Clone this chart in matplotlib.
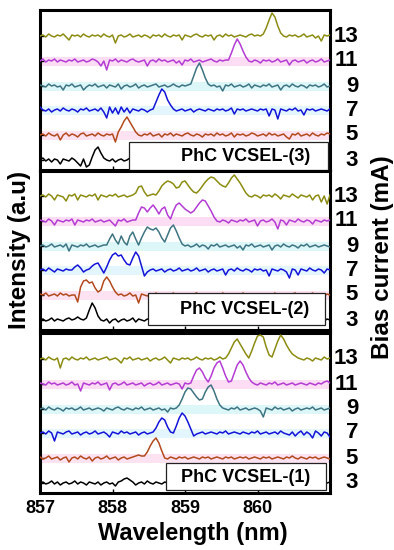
import numpy as np
import matplotlib
matplotlib.use('Agg')
import matplotlib.pyplot as plt
from matplotlib.patches import Rectangle
import matplotlib.transforms as mtransforms

plt.rcParams['font.family'] = ['Liberation Sans', 'DejaVu Sans']
plt.rcParams['font.weight'] = 'bold'

# ---------------- data ----------------
WL_START = 857.0      # nm, first sample
WL_STEP = 0.04        # nm between samples
currents = [3, 5, 7, 9, 11, 13]          # bias current (mA)
offsets = [10, 35, 60, 84, 109, 134]     # vertical stacking offsets (a.u.)
xticks = [857, 858, 859, 860]
panel_names = ['PhC VCSEL-(3)', 'PhC VCSEL-(2)', 'PhC VCSEL-(1)']

# PhC VCSEL-(3)  (top panel)
d3_3mA = [0, 2, -1, 1, -2, 1, 0, -4, 1, 0,
          -1, 2, 0, -3, -6, 1, -7, -5, 3, 10,
          13, 7, 2, 0, -1, 1, -2, 0, 1, -1,
          0, 2, -1, 0, 1, -2, 0, 1, -1, 0,
          1, 0, -2, 1, 0, -1, 2, 0, -1, 1,
          0, -1, 1, 0, 2, -1, 0, 1, -2, 0,
          1, 0, -1, 2, 0, -1, 1, 0, -2, 1,
          0, 1, -1, 0, 2, -1, 0, 1, 0, -1,
          1, 0, -2, 1, 0, -1, 1, 0, 2, -1,
          0, 1, -1, 0, 1, -2, 0, 1, 0, -1, 0]
d3_5mA = [0, 1, -1, 2, 0, -1, 1, -5, 0, 2,
          -1, 1, 0, -2, 1, 2, -1, 0, 1, -1,
          2, 0, -1, 1, 0, 1, -7, 3, 8, 14,
          18, 13, 8, 3, 0, -1, 1, 0, 2, -1,
          0, 1, -2, 1, 0, 2, -1, 1, 0, -1,
          1, 2, 0, -1, 1, 0, -2, 1, 0, 1,
          -1, 2, 0, 1, -1, 0, 2, -2, 1, 0,
          1, -1, 0, 2, 1, -1, 0, 1, -1, 2,
          0, 1, -1, 0, 1, -2, -4, 1, 0, 2,
          -1, 0, 1, -1, 2, 0, -1, 1, 0, 2, 1]
d3_7mA = [3, 0, -1, 1, -2, 0, 1, -1, 2, 0,
          -1, 1, 0, -2, 1, 0, 2, -1, 0, 1,
          -1, 2, -2, -8, 3, -3, 2, -4, 3, -2,
          2, -3, 1, 0, -1, 1, 0, -2, 0, 1,
          8, 15, 21, 18, 10, 5, 1, -1, 0, 1,
          -1, 0, 1, -2, 0, 1, 0, -1, 1, 0,
          -1, 1, 0, 1, -1, 0, 2, -4, 1, 0,
          1, -1, 0, 1, 0, -1, 1, 0, 1, -6,
          1, 0, -9, 1, 0, -1, 1, 0, 2, -1,
          0, -5, 1, 0, 1, -1, 0, 1, 0, -1, 1]
d3_9mA = [1, 0, -1, 2, 0, 1, -1, 0, -4, 1,
          0, 2, -1, 0, 1, -4, -1, 1, 0, 2,
          -1, 0, 1, -2, 1, 0, -1, 2, -3, 0,
          1, -1, 0, 2, -2, 0, 1, -1, 0, 1,
          2, -1, 0, 1, -1, 0, 2, 0, -1, 1,
          0, 1, 2, 10, 18, 23, 16, 8, 2, 0,
          1, -1, 0, -5, 1, 0, 2, -1, 0, 1,
          -1, 0, 2, -2, 1, 0, -1, 1, 0, 2,
          -1, 0, 1, -4, 0, 1, -1, 2, 0, -1,
          1, 0, -2, 1, 0, 1, -1, 0, 2, -1, 0]
d3_11mA = [0, 2, -1, 1, 0, 2, -1, 1, 0, -1,
           1, 0, 2, -1, 0, 1, -1, 0, 2, 1,
           -1, -5, 0, -9, 1, 0, 2, -1, 1, 0,
           -1, 1, 2, 0, -1, 0, 1, -5, 0, 1,
           -1, 2, 0, 1, -1, 0, 1, -2, 0, -4,
           1, 0, 2, -1, 0, 1, -1, 0, 1, 2,
           0, -1, 1, 0, 1, 1, 8, 16, 22, 17,
           10, 4, 0, -1, 1, 0, -2, 1, 0, 1,
           -1, 0, 2, -1, 0, 1, -4, 0, 1, -1,
           0, 1, -2, 0, 1, -1, 0, 2, -1, 0, 1]
d3_13mA = [0, 1, -1, 2, 0, -1, 1, 0, 2, -1,
           -4, 1, 0, 1, -1, 2, 0, -1, 1, 0,
           1, -1, 2, 0, -1, 1, -7, 0, 1, -1,
           0, 2, -1, 0, 1, -1, 1, 0, -2, 1,
           0, 1, -1, 2, 0, -1, 1, 0, 1, -4,
           1, 0, -1, 1, 2, 0, -1, 1, 0, 1,
           -4, 0, 1, -1, 2, 0, 1, -1, 0, 1,
           0, -1, 1, 2, 0, 1, 0, 2, 8, 16,
           23, 19, 10, 3, 0, -1, 1, 0, 1, -1,
           0, 2, -1, 0, 1, -2, 0, -5, 1, 0, 1]

# PhC VCSEL-(2)  (middle panel)
d2_3mA = [0, 1, -1, 0, 2, -1, 1, 0, -1, 1,
          2, 0, 1, 3, 1, 0, 2, 10, 17, 12,
          4, 0, -1, 1, -3, 0, 1, -2, 0, 1,
          -1, 0, 2, -2, 1, 0, -1, 1, 0, -1,
          1, 0, -1, 2, 0, -1, 1, 0, -2, 1,
          0, 1, -1, 0, 1, -2, 0, 1, 0, -1,
          1, 0, 2, -1, 0, 1, -1, 0, 1, -2,
          0, 1, -1, 2, 0, -1, 1, 0, -1, 1,
          0, -2, 1, 0, 1, -1, 0, 2, -1, 0,
          1, -1, 0, 1, 0, -2, 1, 0, -1, 1, 0]
d2_5mA = [1, 0, 2, -1, 0, 1, -1, 2, 0, 1,
          -1, 0, 0, -7, 8, 14, 15, 12, 13, 7,
          3, 5, 14, 18, 14, 8, 3, 0, 1, -1,
          0, 2, -1, 0, -8, 1, 0, -1, 1, 0,
          2, -1, 0, 1, -1, 0, 2, -2, 1, 0,
          1, -1, 0, 1, 2, 0, -1, 1, 0, -2,
          1, 0, -1, 2, 0, 1, -1, 0, 1, -1,
          2, 0, -1, 1, 0, -2, 1, 0, 1, -1,
          0, 2, -1, 0, 1, -1, 0, 1, 2, -1,
          0, 1, -1, 0, 2, -1, 1, 0, -1, 1, 0]
d2_7mA = [0, 1, -1, 2, 0, -2, 1, 0, -1, 1,
          0, 0, 3, 5, 2, -2, 0, 1, 4, 6,
          7, 2, -3, 3, 10, 15, 17, 14, 15, 10,
          6, 5, 12, 18, 14, 4, -6, -2, 0, 1,
          -1, 0, 1, -2, 0, 1, -1, 0, 2, -1,
          0, 1, -1, 0, 2, -1, 0, 1, -2, 0,
          1, -1, 0, 1, -5, 0, 1, -1, 2, 0,
          -1, 1, 0, -2, 1, 0, 1, -1, 0, -6,
          1, 0, -1, 1, 0, -2, -8, 1, 0, -5,
          1, 0, -1, 2, 0, -1, 1, 0, -3, 1, 0]
d2_9mA = [0, 1, -1, 0, 2, -1, 0, 1, -1, 2,
          -5, 1, 0, -1, 1, 0, 2, -1, 0, 1,
          -1, 0, 1, 1, 7, 12, 6, 2, 10, 4,
          1, 10, 14, 7, 1, 8, 14, 19, 17, 16,
          18, 14, 8, 4, 11, 18, 21, 15, 8, 2,
          0, 1, -1, 0, 2, -1, 1, 0, -3, 1,
          0, 2, -1, 0, 1, -1, 0, 1, -2, 0,
          -4, 1, 0, 2, -1, 0, 1, -1, 0, 1,
          -4, 0, 1, -1, 2, 0, -1, 1, 0, -2,
          1, 0, 2, -1, 0, 1, -1, 0, 1, 0, -1]
d2_11mA = [1, 0, -1, 2, 0, -4, 1, 0, -1, 1,
           0, 2, -4, 1, 0, -1, 1, 0, 2, -1,
           0, 1, -1, 0, 1, -2, -5, 1, 0, 2,
           -1, 0, 1, 1, 8, 14, 13, 9, 13, 16,
           12, 7, 12, 14, 6, 2, 10, 16, 18, 15,
           12, 10, 8, 10, 14, 18, 21, 20, 15, 10,
           4, 0, -1, 1, 0, -2, 1, 0, -1, 1,
           0, 2, -1, 0, 1, -5, 0, 1, -1, 0,
           2, -1, -8, 1, 0, -4, 1, 0, -1, 2,
           0, -1, 1, 0, -3, 1, 0, -1, 1, 0, 1]
d2_13mA = [0, 1, -1, 2, 0, -4, 1, 0, -1, -5,
           1, 0, 2, -4, 1, 0, -1, 1, 0, 2,
           -4, 1, 0, -1, 1, 0, 2, -1, 0, 1,
           -1, 0, 1, 3, 9, 10, 4, 0, 1, 2,
           1, 5, 10, 13, 15, 14, 12, 8, 9, 14,
           15, 11, 7, 4, 3, 6, 10, 14, 17, 19,
           18, 15, 12, 10, 9, 13, 18, 21, 17, 13,
           8, 3, 0, -1, 1, 0, -2, 1, 0, 1,
           -1, 2, 0, -3, 1, 0, -1, 2, 0, -2,
           1, 0, -1, 1, -4, 0, 1, -6, 0, -8, 1]

# PhC VCSEL-(1)  (bottom panel)
d1_3mA = [0, 1, -1, 0, 2, -1, 1, -2, 0, 1,
          -1, 0, 2, -1, 1, 0, -2, 1, 0, -1,
          1, -2, 0, 1, -1, 0, -3, 1, 2, 4,
          5, 3, 1, -2, 0, 1, -1, 2, 0, -1,
          1, 0, -1, 1, 0, 2, -1, 0, 1, -1,
          0, 1, -2, 0, 1, -1, 0, 2, -1, 0,
          1, -1, 0, 1, 0, -2, 1, 0, -1, 1,
          0, 2, -1, 0, 1, -1, 0, 1, -2, 0,
          1, 0, -1, 2, 0, -1, 1, 0, -1, 1,
          0, -1, 1, 0, 2, -1, 0, 1, -1, 0, 1]
d1_5mA = [1, -1, 0, 2, -1, 0, 1, -2, 0, 1,
          -4, 0, 1, -1, 2, 0, -1, 1, -3, 0,
          1, -1, 0, 2, -1, 0, 1, -2, 0, 1,
          -1, 0, 1, 2, 3, 2, 2, 6, 12, 17,
          20, 15, 7, 0, -1, 1, 0, -1, 1, 0,
          1, -1, 0, 1, 0, -1, 1, 0, 1, -1,
          0, 1, 0, -1, 1, 0, 1, -1, 0, 1,
          0, 1, -1, 0, 1, 0, -1, 1, 0, 1,
          -1, 0, 1, 0, -1, 1, 0, 2, 0, -1,
          1, 0, -1, 1, 0, 1, -1, 0, 1, 0, -1]
d1_7mA = [0, 1, -1, 2, 0, -8, 1, 0, -1, 1,
          2, -1, 0, 1, -2, 0, 1, -1, 0, 2,
          -1, 0, 1, -1, -4, 1, 0, -1, 2, 0,
          1, -1, 0, 1, -2, 0, 1, -1, 0, 1,
          5, 11, 15, 13, 6, 1, 0, 7, 15, 20,
          17, 11, 4, -3, -1, 0, 1, -1, 0, 1,
          0, -1, 1, 0, 2, -1, 0, 1, 0, -1,
          1, 0, -1, 1, 0, 2, -1, 0, 1, -1,
          0, 1, -1, 2, 0, -1, -2, 1, -3, 0,
          2, -2, 1, -1, -5, 2, 0, -3, 1, 0, -4]
d1_9mA = [0, 1, -1, 2, 0, -1, 1, 0, -2, 1,
          0, 1, -1, 0, 2, -1, 0, 1, -1, 0,
          1, 0, -2, 1, 0, -1, 1, 2, 0, -1,
          1, 0, -1, 1, 0, 2, -1, 0, 1, -1,
          0, 1, -1, 0, -3, 1, 0, 1, 4, 10,
          17, 21, 20, 16, 12, 9, 10, 17, 22, 24,
          18, 10, 4, 1, 0, -1, 1, 0, 2, -1,
          0, 1, -1, 0, 1, 0, -2, -8, 1, 0,
          -1, 2, 0, 1, -1, 0, 1, -2, 0, 1,
          -1, 0, 1, 0, 2, -1, 0, 1, -1, 0, 1]
d1_11mA = [1, 0, -1, 2, 0, 1, -1, 0, 1, -1,
           0, 2, -1, 0, -7, 1, 0, -1, 1, 0,
           2, -1, 0, 1, -6, 0, 1, -1, 0, 2,
           -1, 0, 1, -1, 0, 1, -2, 0, 1, -1,
           0, 2, -1, 0, 1, -1, 0, 1, 0, -5,
           1, 0, 1, 8, 14, 16, 12, 6, 2, 8,
           16, 21, 23, 16, 8, 2, 3, 11, 19, 23,
           19, 12, 6, 2, 0, -1, 1, 0, -1, 1,
           0, 2, -1, 0, 1, -1, 0, 1, -1, 0,
           1, 0, -1, 1, 0, -1, 1, 0, 2, 3, 1]
d1_13mA = [0, 1, -1, 2, 0, -1, 1, -9, 0, 1,
           -1, 2, 0, -1, 1, 0, 2, -1, 0, 1,
           -1, 0, 1, 2, -1, 0, 1, -1, -4, 1,
           0, 2, -1, 0, 1, -1, 0, 1, -2, 0,
           1, -1, 0, 2, -1, -4, 1, 0, -1, 1,
           0, 1, -1, 0, 2, 0, -1, 1, 0, 1,
           -1, 0, 2, 0, 1, 5, 11, 17, 20, 15,
           10, 5, 1, 8, 16, 23, 24, 22, 12, 4,
           2, 10, 18, 24, 20, 14, 9, 5, 3, 1,
           0, -1, 1, 0, -2, 1, 0, -1, 2, 0, 1]

panels = [
    [d3_3mA, d3_5mA, d3_7mA, d3_9mA, d3_11mA, d3_13mA],
    [d2_3mA, d2_5mA, d2_7mA, d2_9mA, d2_11mA, d2_13mA],
    [d1_3mA, d1_5mA, d1_7mA, d1_9mA, d1_11mA, d1_13mA],
]

# ---------------- style ----------------
colors = ['#000000', '#B24A1E', '#1414D8', '#3E7482', '#B43CD4', '#8C8C12']
band_colors = [None, '#FDE3F1', '#E3F6FD', '#DDF7F9', '#FCDDF4', None]

W, H = 394, 550
fig = plt.figure(figsize=(W / 100, H / 100), dpi=100)

# axes rectangles in pixel (left, top, right, bottom)
rects = [(40, 10, 330, 170), (40, 171, 330, 330), (40, 333, 330, 493)]
boxes = [(0.307, 0.0, 0.993, 0.175), (0.372, 0.03, 0.983, 0.233), (0.434, 0.02, 0.986, 0.19)]
text_pos = [(0.71, 0.083), (0.705, 0.127), (0.71, 0.096)]

for p, (l, t, r, b) in enumerate(rects):
    ax = fig.add_axes([l / W, 1 - b / H, (r - l) / W, (b - t) / H])
    for k, vals in enumerate(panels[p]):
        v = np.asarray(vals, dtype=float)
        wl = WL_START + WL_STEP * np.arange(len(v))
        if band_colors[k] is not None:
            ax.fill_between(wl, offsets[k] - 4.5, offsets[k] + 4.5,
                            color=band_colors[k], lw=0, zorder=1)
        ax.plot(wl, v + offsets[k], color=colors[k], lw=1.1, zorder=3)
    ax.set_xlim(857, 861)
    ax.set_ylim(0, b - t)
    for s in ax.spines.values():
        s.set_linewidth(2.2)
    ax.set_yticks(offsets)
    ax.set_yticklabels([])
    ax.set_xticks(xticks)
    ax.tick_params(direction='in', length=3, width=1, labelsize=13, pad=5)
    if p < 2:
        ax.set_xticklabels([])
    else:
        ax.set_xticklabels([str(x) for x in xticks], fontweight='bold')
    # label box
    x0, y0, x1, y1 = boxes[p]
    ax.add_patch(Rectangle((x0, y0), x1 - x0, y1 - y0, transform=ax.transAxes,
                           facecolor='white', edgecolor='#222222', lw=0.9, zorder=5))
    ax.text(text_pos[p][0], text_pos[p][1], panel_names[p], transform=ax.transAxes,
            ha='center', va='center', fontsize=13, fontweight='bold', zorder=6)
    # bias current labels on the right
    trans = mtransforms.blended_transform_factory(ax.transAxes, ax.transData)
    for k, c in enumerate(currents):
        ax.text(1.097, offsets[k], str(c), transform=trans, ha='right', va='center',
                fontsize=16, fontweight='bold', clip_on=False)

fig.text(20 / W, 1 - 250 / H, 'Intensity (a.u)', rotation=90, ha='center', va='center',
         fontsize=17.5, fontweight='bold')
fig.text(382 / W, 1 - 257 / H, 'Bias current (mA)', rotation=90, ha='center', va='center',
         fontsize=17.5, fontweight='bold')
fig.text(193 / W, 1 - 540 / H, 'Wavelength (nm)', ha='center', va='baseline',
         fontsize=17, fontweight='bold')

fig.savefig('out.png', dpi=100)
